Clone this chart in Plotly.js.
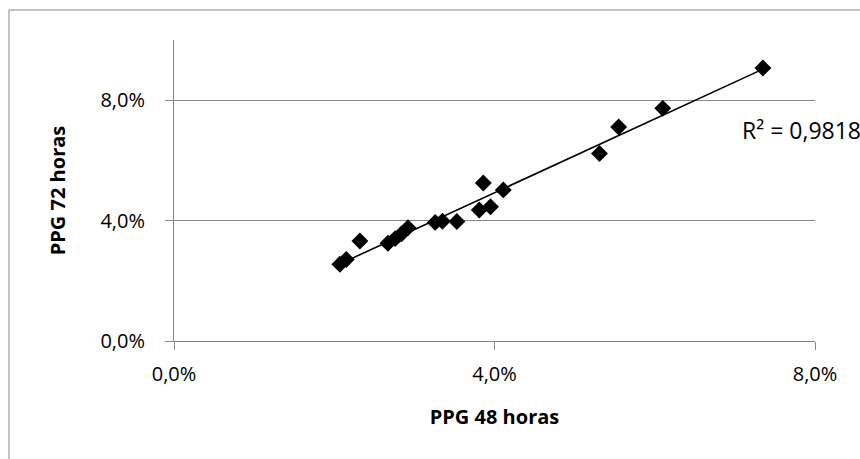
<!DOCTYPE html>
<html>
<head>
<meta charset="utf-8">
<script src="https://cdn.plot.ly/plotly-3.0.1.min.js"></script>
<style>
html,body{margin:0;padding:0;background:#fff;overflow:hidden;}
#chart{width:860px;height:459px;}
</style>
</head>
<body>
<div id="chart"></div>
<script>
// PPG values (fractions)
const ppg48 = [0.0207, 0.0215, 0.0232, 0.0267, 0.0276, 0.0284, 0.0292, 0.0326, 0.0335, 0.0353, 0.0381, 0.0386, 0.0395, 0.0411, 0.0531, 0.0555, 0.0610, 0.0735];
const ppg72 = [0.0255, 0.0271, 0.0332, 0.0325, 0.0340, 0.0356, 0.0376, 0.0394, 0.0398, 0.0397, 0.0435, 0.0525, 0.0446, 0.0502, 0.0623, 0.0711, 0.0773, 0.0907];
const xTickVals = [0, 0.04, 0.08];
const yTickVals = [0, 0.04, 0.08];
const xTitle = 'PPG 48 horas';
const yTitle = 'PPG 72 horas';
const r2Label = 'R² = 0,9818';

// least-squares linear trendline computed from the data
const n = ppg48.length;
const mx = ppg48.reduce((a,b)=>a+b,0)/n;
const my = ppg72.reduce((a,b)=>a+b,0)/n;
let sxy=0, sxx=0;
for(let i=0;i<n;i++){ sxy+=(ppg48[i]-mx)*(ppg72[i]-my); sxx+=(ppg48[i]-mx)**2; }
const slope = sxy/sxx, intercept = my - slope*mx;
const xmin = Math.min(...ppg48), xmax = Math.max(...ppg48);

const font = "'Open Sans', 'Liberation Sans', sans-serif";
const gray = '#868686';

const traces = [
  {
    x: ppg48, y: ppg72, type: 'scatter', mode: 'markers',
    marker: {symbol: 'diamond', size: 13, color: '#000'},
    hoverinfo: 'skip', cliponaxis: false
  },
  {
    x: [xmin, xmax], y: [intercept + slope*xmin, intercept + slope*xmax],
    type: 'scatter', mode: 'lines', line: {color: '#000', width: 1.6},
    hoverinfo: 'skip'
  }
];

// chart-area border: only left and top edges are inside the picture
const bx = (9-174)/641, by = (341-10)/301;

const layout = {
  width: 860, height: 459,
  margin: {l: 174, r: 45, t: 40, b: 118},
  paper_bgcolor: '#fff', plot_bgcolor: '#fff',
  showlegend: false,
  separators: ',.',
  font: {family: font, size: 20, color: '#000'},
  xaxis: {
    range: [0, 0.08], tickvals: xTickVals, tickformat: '.1%',
    showgrid: false, zeroline: false,
    showline: true, linecolor: gray, linewidth: 1,
    ticks: 'outside', ticklen: 8, tickcolor: gray, tickwidth: 1,
    ticklabelstandoff: 7,
    tickfont: {family: font, size: 20, color: '#000'},
    title: {text: xTitle, font: {family: font, size: 20, color: '#000', weight: 'bold'}, standoff: 23}
  },
  yaxis: {
    range: [0, 0.10], tickvals: yTickVals, tickformat: '.1%',
    showgrid: true, gridcolor: gray, gridwidth: 1,
    zeroline: false,
    showline: true, linecolor: gray, linewidth: 1,
    ticks: 'outside', ticklen: 8, tickcolor: gray, tickwidth: 1,
    ticklabelstandoff: 16,
    tickfont: {family: font, size: 20, color: '#000'},
    title: {text: yTitle, font: {family: font, size: 20, color: '#000', weight: 'bold'}, standoff: 29}
  },
  annotations: [{
    xref: 'paper', yref: 'paper',
    x: (740-174)/641, y: (341-130)/301,
    xanchor: 'left', yanchor: 'middle',
    text: r2Label, showarrow: false,
    font: {family: font, size: 23, color: '#000'}
  }],
  shapes: [{
    type: 'path', xref: 'paper', yref: 'paper',
    path: 'M ' + bx + ',-1 L ' + bx + ',' + by + ' L 2,' + by,
    line: {color: gray, width: 1}, layer: 'below'
  }]
};

Plotly.newPlot('chart', traces, layout, {displayModeBar: false, staticPlot: true});
</script>
</body>
</html>
